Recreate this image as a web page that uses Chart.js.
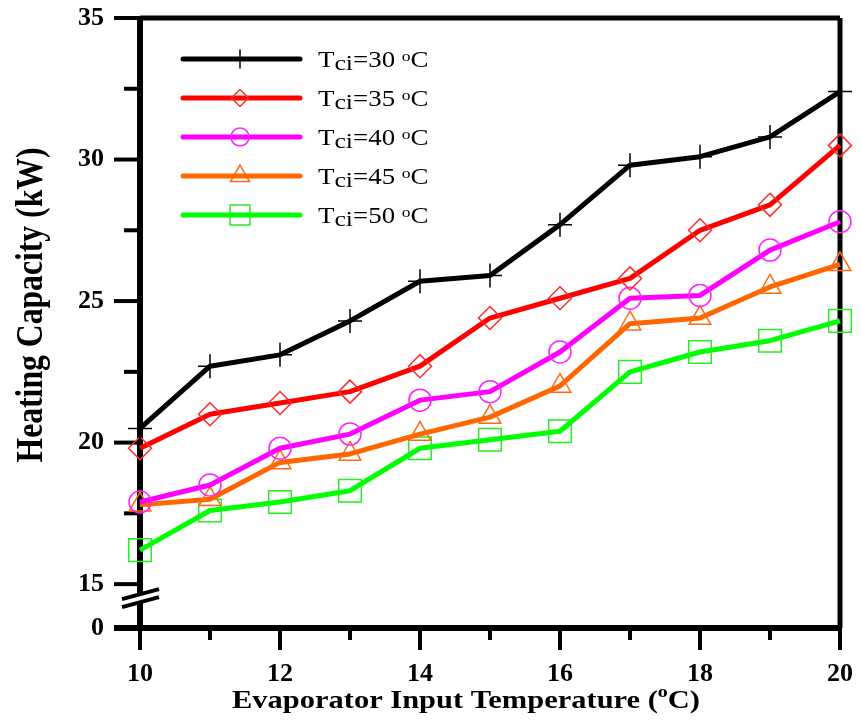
<!DOCTYPE html>
<html>
<head>
<meta charset="utf-8">
<script src="https://cdn.jsdelivr.net/npm/chart.js@4.4.0/dist/chart.umd.min.js"></script>
<style>
  html, body { margin: 0; padding: 0; background: #fff; }
  canvas { display: block; }
</style>
</head>
<body>
<canvas id="chart" width="861" height="727"></canvas>
<script>
// evaporator input temperature (°C)
const temps = [10, 11, 12, 13, 14, 15, 16, 17, 18, 19, 20];
// heating capacity (kW) for each condenser inlet temperature
const tci30 = [20.5, 22.7, 23.1, 24.3, 25.7, 25.9, 27.7, 29.8, 30.1, 30.8, 32.4];
const tci35 = [19.8, 21.0, 21.4, 21.8, 22.7, 24.4, 25.1, 25.8, 27.5, 28.4, 30.5];
const tci40 = [17.9, 18.5, 19.8, 20.3, 21.5, 21.8, 23.2, 25.1, 25.2, 26.8, 27.8];
const tci45 = [17.8, 18.0, 19.3, 19.6, 20.3, 20.9, 22.0, 24.2, 24.4, 25.5, 26.3];
const tci50 = [16.2, 17.6, 17.9, 18.3, 19.8, 20.1, 20.4, 22.5, 23.2, 23.6, 24.3];
const seriesNames = ['30', '35', '40', '45', '50'];

// y axis has a break: "0" sits just under 15
const yBreakValue = 13.45;
const yTickValues = [13.45, 15, 17.5, 20, 22.5, 25, 27.5, 30, 32.5, 35];
const yTickLabels = ['0', '15', '', '20', '', '25', '', '30', '', '35'];
const xTickLabels = ['10', '', '12', '', '14', '', '16', '', '18', '', '20'];

const serif = '"Liberation Serif", "Times New Roman", serif';

const styles = [
  { color: '#000000', mark: '#000000', pointStyle: 'cross', radius: 12, legendRadius: 9 },
  { color: '#ff0000', mark: '#ff2a2a', pointStyle: 'rectRot', radius: 11.5, legendRadius: 8.5 },
  { color: '#ff00ff', mark: '#ff22ff', pointStyle: 'circle', radius: 11, legendRadius: 9 },
  { color: '#ff6600', mark: '#ff6a10', pointStyle: 'triangle', radius: 12.5, legendRadius: 11 },
  { color: '#00ff00', mark: '#22ee22', pointStyle: 'rect', radius: 16, legendRadius: 14 }
];

function makeSet(values, i) {
  const s = styles[i];
  return {
    label: 'Tci=' + seriesNames[i] + ' oC',
    data: temps.map((t, k) => ({ x: t, y: values[k] })),
    borderColor: s.color,
    borderWidth: 5,
    borderJoinStyle: 'round',
    tension: 0,
    pointStyle: s.pointStyle,
    pointRadius: s.radius,
    pointHoverRadius: s.radius,
    pointBorderColor: s.mark,
    pointBackgroundColor: 'rgba(0,0,0,0)',
    pointBorderWidth: 1.5,
    clip: false
  };
}

// draws text pieces (sub/superscripts) with a horizontal stretch
function drawRich(ctx, parts, x, y, sx) {
  ctx.save();
  ctx.translate(x, y);
  ctx.scale(sx, 1);
  ctx.textBaseline = 'alphabetic';
  ctx.textAlign = 'left';
  let cx = 0;
  parts.forEach(p => {
    ctx.font = (p.bold ? 'bold ' : '') + p.size + 'px ' + serif;
    ctx.fillText(p.t, cx, p.dy || 0);
    cx += ctx.measureText(p.t).width;
  });
  ctx.restore();
}

function richWidth(ctx, parts) {
  let w = 0;
  parts.forEach(p => {
    ctx.font = (p.bold ? 'bold ' : '') + p.size + 'px ' + serif;
    w += ctx.measureText(p.t).width;
  });
  return w;
}

const framePlugin = {
  id: 'frame',
  beforeDatasetsDraw(chart) {
    const ctx = chart.ctx;
    const a = chart.chartArea;
    const xs = chart.scales.x, ys = chart.scales.y;
    ctx.save();
    ctx.strokeStyle = '#000';
    ctx.lineCap = 'butt';
    // box
    ctx.lineWidth = 5;
    ctx.beginPath();
    ctx.moveTo(a.left, a.top); ctx.lineTo(a.right, a.top);
    ctx.moveTo(a.right, a.top); ctx.lineTo(a.right, a.bottom);
    ctx.stroke();
    ctx.lineWidth = 6;
    ctx.beginPath();
    ctx.moveTo(a.left, a.top - 2); ctx.lineTo(a.left, a.bottom);
    ctx.moveTo(a.left - 26, a.bottom); ctx.lineTo(a.right + 2, a.bottom);
    ctx.stroke();
    // y ticks
    ctx.lineWidth = 4;
    ys.ticks.forEach((t, i) => {
      const py = ys.getPixelForValue(t.value);
      const len = yTickLabels[i] ? 26 : 16;
      ctx.beginPath();
      ctx.moveTo(a.left - len, py); ctx.lineTo(a.left, py);
      ctx.stroke();
    });
    // x ticks
    xs.ticks.forEach((t, i) => {
      const px = xs.getPixelForValue(t.value);
      const len = xTickLabels[i] ? 22 : 12;
      ctx.beginPath();
      ctx.moveTo(px, a.bottom); ctx.lineTo(px, a.bottom + len);
      ctx.stroke();
    });
    // axis break marks
    const p15 = ys.getPixelForValue(15);
    const mid = p15 + (a.bottom - p15) * 0.32;
    ctx.fillStyle = '#fff';
    ctx.beginPath();
    ctx.moveTo(a.left - 18, mid + 2);
    ctx.lineTo(a.left + 19, mid - 8);
    ctx.lineTo(a.left + 19, mid - 1);
    ctx.lineTo(a.left - 18, mid + 9);
    ctx.closePath();
    ctx.fill();
    ctx.lineWidth = 4;
    ctx.beginPath();
    ctx.moveTo(a.left - 18, mid + 1); ctx.lineTo(a.left + 19, mid - 9);
    ctx.moveTo(a.left - 18, mid + 9); ctx.lineTo(a.left + 19, mid - 1);
    ctx.stroke();
    ctx.restore();
  },
  afterDraw(chart) {
    const ctx = chart.ctx;
    const a = chart.chartArea;
    ctx.save();
    ctx.fillStyle = '#000';
    // legend
    chart.data.datasets.forEach((ds, i) => {
      const s = styles[i];
      const ly = a.top + 41 + i * 39;
      ctx.strokeStyle = s.color;
      ctx.lineWidth = 5;
      ctx.lineCap = 'round';
      ctx.beginPath();
      ctx.moveTo(a.left + 43, ly); ctx.lineTo(a.left + 160, ly);
      ctx.stroke();
      ctx.strokeStyle = s.mark;
      ctx.fillStyle = 'rgba(0,0,0,0)';
      ctx.lineWidth = 1.5;
      Chart.helpers.drawPoint(ctx, { pointStyle: s.pointStyle, radius: s.legendRadius, rotation: 0, borderWidth: 1.5 }, a.left + 100, ly);
      ctx.fillStyle = '#000';
      drawRich(ctx, [
        { t: 'T', size: 23 },
        { t: 'ci', size: 22, dy: 3.5 },
        { t: '=' + seriesNames[i] + ' ', size: 23 },
        { t: 'o', size: 15, dy: -6 },
        { t: 'C', size: 23 }
      ], a.left + 178, ly + 7.5, 1.17);
    });
    // x axis title
    const xParts = [
      { t: 'Evaporator Input Temperature (', size: 26, bold: true },
      { t: 'o', size: 17, bold: true, dy: -11 },
      { t: 'C)', size: 26, bold: true }
    ];
    const xw = richWidth(ctx, xParts);
    const xsx = 468 / xw;
    drawRich(ctx, xParts, 466 - xw * xsx / 2, 708, xsx);
    // y axis title
    ctx.save();
    ctx.translate(42, 305);
    ctx.rotate(-Math.PI / 2);
    ctx.font = 'bold 29px ' + serif;
    const yt = 'Heating Capacity (kW)';
    const yw = ctx.measureText(yt).width;
    ctx.scale(315 / yw, 1.3);
    ctx.textAlign = 'center';
    ctx.textBaseline = 'alphabetic';
    ctx.fillText(yt, 0, 0);
    ctx.restore();
    ctx.restore();
  }
};

new Chart(document.getElementById('chart'), {
  type: 'line',
  data: {
    datasets: [
      makeSet(tci30, 0),
      makeSet(tci35, 1),
      makeSet(tci40, 2),
      makeSet(tci45, 3),
      makeSet(tci50, 4)
    ]
  },
  options: {
    responsive: false,
    devicePixelRatio: 1,
    animation: false,
    events: [],
    layout: { padding: { top: 18, right: 21, left: 0, bottom: 0 } },
    plugins: {
      legend: { display: false },
      tooltip: { enabled: false }
    },
    scales: {
      x: {
        type: 'linear',
        min: 10,
        max: 20,
        afterFit: s => { s.height = 99; },
        grid: { display: true, drawOnChartArea: false, drawTicks: true, tickLength: 31, tickColor: 'rgba(0,0,0,0)' },
        border: { display: false },
        ticks: {
          stepSize: 1,
          autoSkip: false,
          maxRotation: 0,
          padding: 0,
          color: '#000',
          font: { family: serif, size: 26, weight: 'bold' },
          callback: (v, i) => xTickLabels[i]
        }
      },
      y: {
        type: 'linear',
        min: yBreakValue,
        max: 35,
        afterFit: s => { s.width = 140; },
        afterBuildTicks: s => { s.ticks = yTickValues.map(v => ({ value: v })); },
        grid: { display: true, drawOnChartArea: false, drawTicks: true, tickLength: 36, tickColor: 'rgba(0,0,0,0)' },
        border: { display: false },
        ticks: {
          autoSkip: false,
          padding: 0,
          color: '#000',
          font: { family: serif, size: 26, weight: 'bold' },
          callback: (v, i) => yTickLabels[i]
        }
      }
    }
  },
  plugins: [framePlugin]
});
</script>
</body>
</html>
